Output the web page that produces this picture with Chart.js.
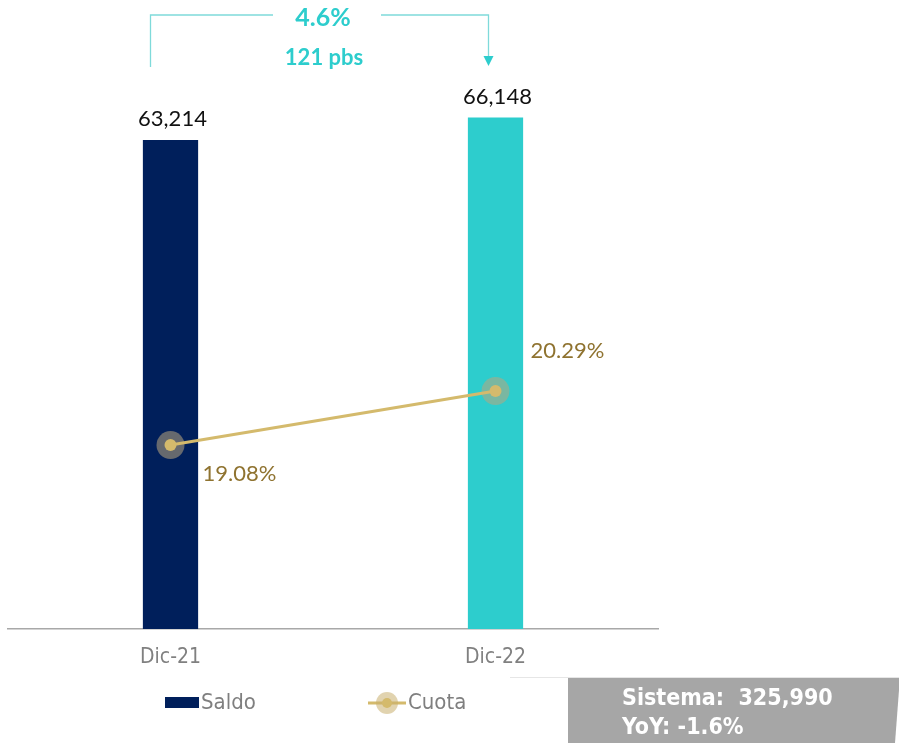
<!DOCTYPE html>
<html><head><meta charset="utf-8">
<script src="https://cdn.jsdelivr.net/npm/chart.js@4.4.1/dist/chart.umd.min.js"></script>
<style>html,body{margin:0;padding:0;background:#fff;}#wrap{width:899px;height:743px;position:relative;}</style>
</head><body><div id="wrap"><canvas id="c" width="899" height="743"></canvas></div>
<script>
const categories = ['Dic-21', 'Dic-22'];
const saldo = [63214, 66148];
const cuota = [19.08, 20.29];
const saldoLabels = ['63,214', '66,148'];
const cuotaLabels = ['19.08%', '20.29%'];
const growthLabel = '4.6%';
const bpsLabel = '121 pbs';
const sistemaLines = ['Sistema:  325,990', 'YoY: -1.6%'];
const legendNames = ['Saldo', 'Cuota'];

const NAVY = '#001F5B', TEAL = '#2DCDCD', GOLD = '#D4BA6C', GOLDTXT = '#8F7330';
const NUMFONT = '"Lato", "Open Sans", sans-serif';
const CONDFONT = '"Liberation Sans Narrow", "DejaVu Sans Condensed", "Roboto", sans-serif';

const decor = {
  id: 'decor',
  afterDatasetsDraw(chart) {
    const ctx = chart.ctx;
    ctx.save();
    // bar value labels
    const mb = chart.getDatasetMeta(0);
    ctx.font = '22px ' + NUMFONT;
    ctx.fillStyle = '#111';
    ctx.textAlign = 'center'; ctx.textBaseline = 'middle';
    mb.data.forEach((el, i) => ctx.fillText(saldoLabels[i], el.x + 2, el.y - 21));
    // line labels
    const ml = chart.getDatasetMeta(2);
    ctx.fillStyle = GOLDTXT; ctx.textAlign = 'left';
    const offs = [[32, 29], [35, -40]];
    ml.data.forEach((el, i) => ctx.fillText(cuotaLabels[i], el.x + offs[i][0], el.y + offs[i][1]));
    // bracket
    const x0 = mb.data[0].x - 20, x1 = mb.data[1].x - 7;
    ctx.strokeStyle = '#7FDADA'; ctx.lineWidth = 1.3;
    ctx.beginPath();
    ctx.moveTo(x0, 67); ctx.lineTo(x0, 15); ctx.lineTo(273, 15);
    ctx.moveTo(381, 15); ctx.lineTo(x1, 15); ctx.lineTo(x1, 58);
    ctx.stroke();
    ctx.fillStyle = '#2DCDCD';
    ctx.beginPath(); ctx.moveTo(x1 - 5, 56); ctx.lineTo(x1 + 5, 56); ctx.lineTo(x1, 66); ctx.closePath(); ctx.fill();
    ctx.font = 'bold 25px ' + NUMFONT; ctx.textAlign = 'center';
    ctx.fillText(growthLabel, 323, 18);
    ctx.font = 'bold 22px ' + NUMFONT;
    ctx.fillText(bpsLabel, 324, 58);
    // legend
    ctx.fillStyle = NAVY; ctx.fillRect(165, 697, 34, 11);
    ctx.font = '22px ' + CONDFONT; ctx.fillStyle = '#7F7F7F'; ctx.textAlign = 'left';
    ctx.fillText(legendNames[0], 201, 703);
    ctx.strokeStyle = GOLD; ctx.lineWidth = 3;
    ctx.beginPath(); ctx.moveTo(368, 703); ctx.lineTo(406, 703); ctx.stroke();
    ctx.fillStyle = 'rgba(200,175,110,0.55)';
    ctx.beginPath(); ctx.arc(387, 703, 11, 0, Math.PI * 2); ctx.fill();
    ctx.fillStyle = GOLD;
    ctx.beginPath(); ctx.arc(387, 703, 5, 0, Math.PI * 2); ctx.fill();
    ctx.fillStyle = '#7F7F7F';
    ctx.fillText(legendNames[1], 408, 703);
    // sistema box
    ctx.strokeStyle = '#E6E6E6'; ctx.lineWidth = 1;
    ctx.beginPath(); ctx.moveTo(510, 677.5); ctx.lineTo(899, 677.5); ctx.stroke();
    ctx.fillStyle = '#A6A6A6';
    ctx.beginPath(); ctx.moveTo(568, 678); ctx.lineTo(899, 678); ctx.lineTo(899, 690); ctx.lineTo(895, 743); ctx.lineTo(568, 743); ctx.closePath(); ctx.fill();
    ctx.fillStyle = '#fff'; ctx.font = 'bold 23px ' + CONDFONT; ctx.textAlign = 'left';
    ctx.fillText(sistemaLines[0], 622, 699);
    ctx.fillText(sistemaLines[1], 622, 728);
    ctx.restore();
  }
};

new Chart(document.getElementById('c'), {
  data: {
    labels: categories,
    datasets: [
      { type: 'bar', label: legendNames[0], data: saldo, backgroundColor: [NAVY, TEAL], yAxisID: 'y',
        categoryPercentage: 1, barPercentage: 0.17, order: 3 },
      { type: 'line', label: 'halo', data: cuota, yAxisID: 'y1', showLine: false,
        pointRadius: 14, pointBackgroundColor: 'rgba(185,165,125,0.55)', pointBorderWidth: 0, order: 2 },
      { type: 'line', label: legendNames[1], data: cuota, yAxisID: 'y1', borderColor: GOLD, borderWidth: 3,
        pointRadius: 6, pointBackgroundColor: GOLD, pointBorderColor: '#DCC88A', pointBorderWidth: 0, order: 1 }
    ]
  },
  options: {
    responsive: false, animation: false,
    layout: { autoPadding: false, padding: { left: 8, right: 241, top: 0, bottom: 0 } },
    plugins: { legend: { display: false }, tooltip: { enabled: false } },
    scales: {
      x: { grid: { display: false, drawTicks: false }, border: { color: '#A8A8A8', width: 1.5 },
           ticks: { padding: 16, color: '#808080', font: { family: CONDFONT, size: 21 } },
           afterFit: s => { s.height = 114; } },
      y: { display: false, min: 0, max: 81330 },
      y1: { display: false, min: 14.955, max: 29.06, position: 'right' }
    }
  },
  plugins: [decor]
});
</script></body></html>
